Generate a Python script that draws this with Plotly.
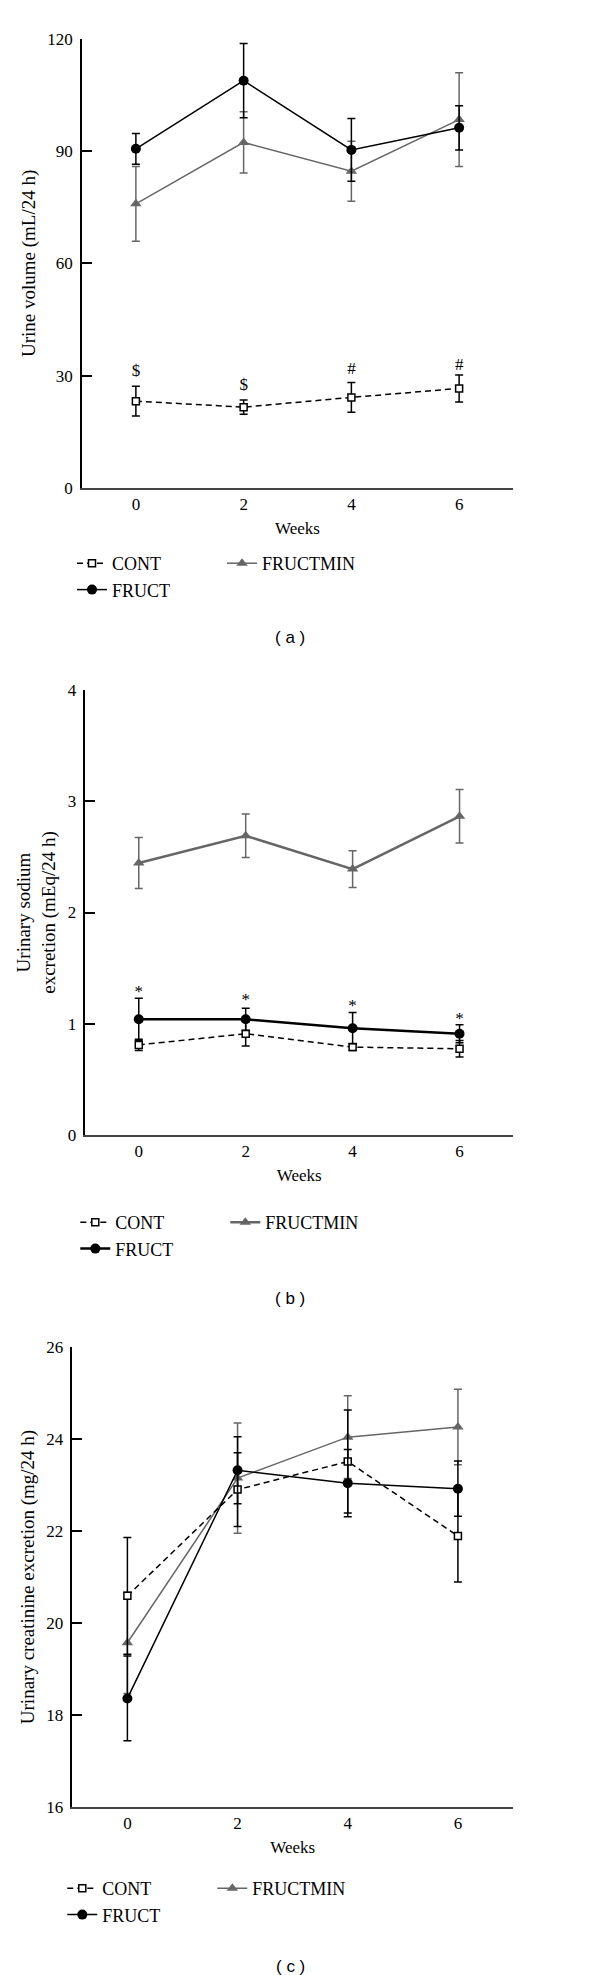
import plotly.graph_objects as go

W, H = 600, 1975

weeks = [0, 2, 4, 6]
series_names = ["CONT", "FRUCT", "FRUCTMIN"]

# Panel (a): urine volume (mL/24 h)
a_cont = [23.2, 21.6, 24.2, 26.6]
a_cont_err = [4.0, 1.9, 4.0, 3.6]
a_fruct = [90.6, 108.8, 90.3, 96.2]
a_fruct_err = [4.1, 9.9, 8.4, 5.9]
a_fmin = [75.9, 92.3, 84.6, 98.4]
a_fmin_err = [10.0, 8.2, 8.0, 12.5]
a_marks = ["$", "$", "#", "#"]
a_marks_y = [31.0, 27.4, 31.5, 32.6]
a_yticks = [0, 30, 60, 90, 120]

# Panel (b): urinary sodium excretion (mEq/24 h)
b_cont = [0.81, 0.91, 0.79, 0.775]
b_cont_err = [0.05, 0.11, 0.03, 0.075]
b_fruct = [1.04, 1.04, 0.96, 0.91]
b_fruct_err = [0.19, 0.10, 0.14, 0.08]
b_fmin = [2.445, 2.69, 2.39, 2.865]
b_fmin_err = [0.23, 0.195, 0.165, 0.24]
b_marks = ["*", "*", "*", "*"]
b_marks_y = [1.28, 1.205, 1.155, 1.035]
b_yticks = [0, 1, 2, 3, 4]

# Panel (c): urinary creatinine excretion (mg/24 h)
c_cont = [20.59, 22.90, 23.51, 21.89]
c_cont_err = [1.27, 0.8, 1.12, 1.0]
c_fruct = [18.36, 23.32, 23.04, 22.92]
c_fruct_err = [0.92, 0.73, 0.73, 0.6]
c_fmin = [19.57, 23.15, 24.04, 24.26]
c_fmin_err = [1.1, 1.2, 0.9, 0.82]
c_yticks = [16, 18, 20, 22, 24, 26]

BLACK = "#000000"
GRAY = "#666666"
SERIF = "Liberation Serif"
SANS = "Liberation Sans"


def px_x(p):
    return p / W


def px_y(p):
    return 1 - p / H


panels = [
    dict(key="", cont=a_cont, cerr=a_cont_err, fruct=a_fruct, ferr=a_fruct_err,
         fmin=a_fmin, merr=a_fmin_err, marks=a_marks, marks_y=a_marks_y,
         yticks=a_yticks, yrange=[0, 120], x0=74, x1=505, ybot=480, ytop=30.7,
         ytitle="Urine volume (mL/24 h)", lw=1.5, label="( a )", label_y=630,
         leg_y=537),
    dict(key="2", cont=b_cont, cerr=b_cont_err, fruct=b_fruct, ferr=b_fruct_err,
         fmin=b_fmin, merr=b_fmin_err, marks=b_marks, marks_y=b_marks_y,
         yticks=b_yticks, yrange=[0, 4], x0=77.3, x1=505, ybot=1127, ytop=682,
         ytitle="Urinary sodium<br>excretion (mEq/24 h)", lw=2.5, label="( b )",
         label_y=1290, leg_y=1196),
    dict(key="3", cont=c_cont, cerr=c_cont_err, fruct=c_fruct, ferr=c_fruct_err,
         fmin=c_fmin, merr=c_fmin_err, marks=None, marks_y=None,
         yticks=c_yticks, yrange=[16, 26], x0=64.3, x1=505, ybot=1799, ytop=1339,
         ytitle="Urinary creatinine excretion (mg/24 h)", lw=1.5, label="( c )",
         label_y=1958, leg_y=1862),
]

fig = go.Figure()
layout = dict(
    width=W, height=H,
    margin=dict(l=0, r=0, t=0, b=0, autoexpand=False),
    paper_bgcolor="white", plot_bgcolor="white",
    font=dict(family=SERIF, size=17, color=BLACK),
    annotations=[],
)

for i, p in enumerate(panels):
    k = p["key"]
    xa = "x" + k
    ya = "y" + k
    leg1 = "legend" if i == 0 else f"legend{2 * i + 1}"
    leg2 = f"legend{2 * i + 2}"
    # FRUCTMIN (gray triangles)
    fig.add_trace(go.Scatter(
        x=weeks, y=p["fmin"], name="FRUCTMIN", xaxis=xa, yaxis=ya, legend=leg2,
        mode="lines+markers",
        line=dict(color=GRAY, width=p["lw"]),
        marker=dict(symbol="triangle-up", size=10, color=GRAY),
        error_y=dict(type="data", array=p["merr"], color=GRAY, thickness=1.5, width=4),
    ))
    # CONT (open squares, dashed)
    fig.add_trace(go.Scatter(
        x=weeks, y=p["cont"], name="CONT", xaxis=xa, yaxis=ya, legend=leg1,
        mode="lines+markers",
        line=dict(color=BLACK, width=1.5, dash="6px,4px"),
        marker=dict(symbol="square", size=7, color="white", line=dict(color=BLACK, width=1.5)),
        error_y=dict(type="data", array=p["cerr"], color=BLACK, thickness=1.5, width=4),
    ))
    # FRUCT (black circles)
    fig.add_trace(go.Scatter(
        x=weeks, y=p["fruct"], name="FRUCT", xaxis=xa, yaxis=ya, legend=leg1,
        mode="lines+markers",
        line=dict(color=BLACK, width=p["lw"]),
        marker=dict(symbol="circle", size=10, color=BLACK),
        error_y=dict(type="data", array=p["ferr"], color=BLACK, thickness=1.5, width=4),
    ))
    if p["marks"] is not None:
        fig.add_trace(go.Scatter(
            x=weeks, y=p["marks_y"], text=p["marks"], mode="text", xaxis=xa, yaxis=ya,
            textfont=dict(family=SERIF, size=17, color=BLACK), showlegend=False,
            hoverinfo="skip",
        ))

    xname = "xaxis" + k
    yname = "yaxis" + k
    layout[xname] = dict(
        domain=[px_x(p["x0"]), px_x(p["x1"])], anchor=ya, range=[-1, 7],
        tickvals=weeks, ticktext=[str(w) for w in weeks], ticks="",
        showline=True, linecolor="#444444", linewidth=2, showgrid=False, zeroline=False,
        tickfont=dict(family=SERIF, size=17, color=BLACK),
        title=dict(text="Weeks", font=dict(family=SERIF, size=17, color=BLACK), standoff=9),
    )
    layout[yname] = dict(
        domain=[px_y(p["ybot"]), px_y(p["ytop"])], anchor=xa, range=p["yrange"],
        tickvals=p["yticks"], ticks="inside", ticklen=10, tickwidth=1.5, tickcolor=BLACK,
        showline=True, linecolor=BLACK, linewidth=1.5, showgrid=False, zeroline=False,
        tickfont=dict(family=SERIF, size=17, color=BLACK), ticklabelstandoff=4,
        title=dict(text=p["ytitle"], font=dict(family=SERIF, size=19, color=BLACK), standoff=7),
    )
    legfont = dict(family=SERIF, size=18, color=BLACK)
    layout[leg1] = dict(x=px_x(p["x0"] - 10), y=px_y(p["leg_y"]), xanchor="left", yanchor="top",
                        orientation="v", font=legfont, bgcolor="rgba(0,0,0,0)",
                        traceorder="normal", tracegroupgap=0, itemsizing="trace")
    layout[leg2] = dict(x=px_x(p["x0"] + 140), y=px_y(p["leg_y"]), xanchor="left", yanchor="top",
                        orientation="v", font=legfont, bgcolor="rgba(0,0,0,0)",
                        traceorder="normal", tracegroupgap=0, itemsizing="trace")
    layout["annotations"].append(dict(
        text=p["label"], x=px_x(282), y=px_y(p["label_y"]), xref="paper", yref="paper",
        showarrow=False, font=dict(family=SANS, size=17, color=BLACK),
        xanchor="center", yanchor="middle",
    ))

fig.update_layout(**layout)
fig.write_html("out.html")
